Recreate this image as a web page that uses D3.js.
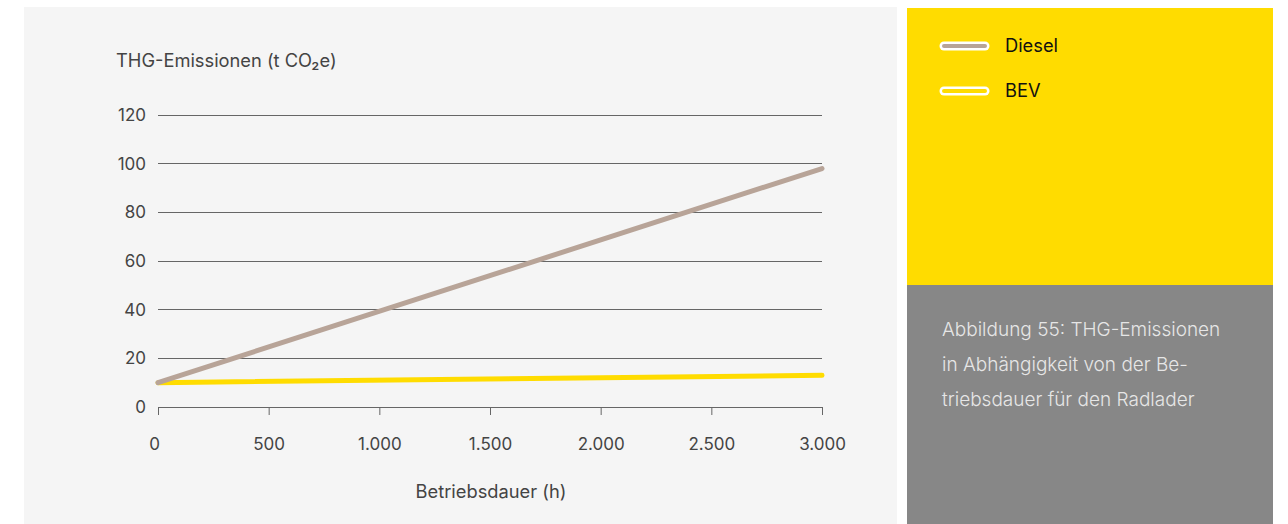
<!DOCTYPE html>
<html><head><meta charset="utf-8">
<script src="https://cdn.jsdelivr.net/npm/d3@7"></script>
<style>
html,body{margin:0;padding:0;background:#fff;}
svg{display:block;font-family:Inter,"Liberation Sans",Arial,sans-serif;}
</style></head>
<body>
<svg id="c" width="1288" height="524"></svg>
<script>
const hours = [0, 3000];
const dieselValues = [10, 98];
const bevValues = [10, 13];
const seriesNames = ["Diesel", "BEV"];
const seriesColors = ["#B8A498", "#FFDC00"];
const yTicks = [0, 20, 40, 60, 80, 100, 120];
const xTicks = [0, 500, 1000, 1500, 2000, 2500, 3000];
const xTickLabels = ["0", "500", "1.000", "1.500", "2.000", "2.500", "3.000"];
const captionLines = ["Abbildung 55: THG-Emissionen", "in Abhängigkeit von der Be-", "triebsdauer für den Radlader"];

const FONT = "Inter, Liberation Sans, Arial, sans-serif";
const svg = d3.select("#c");
svg.append("rect").attr("x",24).attr("y",7).attr("width",873).attr("height",517).attr("fill","#F5F5F5");
svg.append("rect").attr("x",907).attr("y",8).attr("width",366).attr("height",277).attr("fill","#FFDC00");
svg.append("rect").attr("x",907).attr("y",285).attr("width",366).attr("height",239).attr("fill","#878787");

const x = d3.scaleLinear().domain([0,3000]).range([158,822]);
const y = d3.scaleLinear().domain([0,120]).range([407,115]);

// gridlines
svg.append("g").selectAll("line").data(yTicks).join("line")
  .attr("x1",x(0)).attr("x2",x(3000)).attr("y1",d=>y(d)).attr("y2",d=>y(d))
  .attr("stroke","#666").attr("stroke-width",1).attr("shape-rendering","crispEdges");

// y labels
svg.append("g").selectAll("text").data(yTicks).join("text")
  .attr("x",146).attr("y",d=>y(d)).attr("dy","0.35em").attr("text-anchor","end")
  .attr("font-size",17).attr("fill","#444").text(d=>d);

// x axis ticks
const xAxis = d3.axisBottom(x).tickValues(xTicks).tickSize(8).tickSizeOuter(0)
  .tickFormat((d,i)=>xTickLabels[i]).tickPadding(23);
const gx = svg.append("g").attr("transform",`translate(0,${y(0)})`).call(xAxis);
gx.select(".domain").remove();
gx.selectAll(".tick line").attr("stroke","#666");
gx.selectAll(".tick text").attr("font-size",17).attr("fill","#444").attr("font-family",FONT)
  .attr("dx",(d)=>d===0?-4:0);

// titles
svg.append("text").attr("x",116).attr("y",61).attr("dy","0.35em").attr("font-size",18.3).attr("fill","#444").text("THG-Emissionen (t CO₂e)");
svg.append("text").attr("x",491).attr("y",492).attr("dy","0.35em").attr("text-anchor","middle").attr("font-size",18.3).attr("fill","#444").text("Betriebsdauer (h)");

// lines
const line = d3.line().x((d,i)=>x(hours[i])).y(d=>y(d));
[bevValues, dieselValues].forEach((vals,k)=>{
  const idx = k===0 ? 1 : 0;
  svg.append("path").datum(vals).attr("d",line).attr("fill","none")
    .attr("stroke",seriesColors[idx]).attr("stroke-width",5).attr("stroke-linecap","round");
});

// legend
const legY = [46, 91];
seriesNames.forEach((n,i)=>{
  svg.append("line").attr("x1",944).attr("x2",985).attr("y1",legY[i]).attr("y2",legY[i])
    .attr("stroke","#fff").attr("stroke-width",9).attr("stroke-linecap","round");
  svg.append("line").attr("x1",944).attr("x2",985).attr("y1",legY[i]).attr("y2",legY[i])
    .attr("stroke",seriesColors[i]).attr("stroke-width",4).attr("stroke-linecap","round");
  svg.append("text").attr("x",1005).attr("y",legY[i]).attr("dy","0.35em")
    .attr("font-size",18.3).attr("fill","#111").text(n);
});

// caption
svg.append("g").selectAll("text").data(captionLines).join("text")
  .attr("x",942).attr("y",(d,i)=>329+i*35).attr("dy","0.35em").attr("font-size",19).attr("fill","#E6E6E6")
  .attr("font-family",FONT).attr("font-weight",300).text(d=>d);
</script>
</body></html>
